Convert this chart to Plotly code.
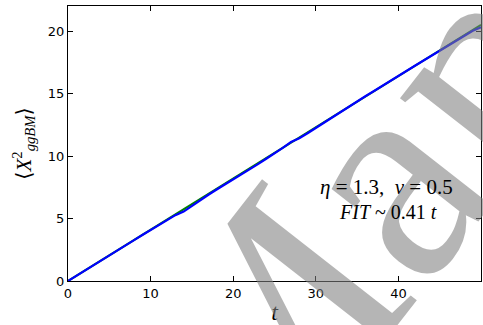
import plotly.graph_objects as go

# diffusion curve
t = list(range(0, 51))
x2_sim = [0.00, 0.40, 0.81, 1.22, 1.63, 2.04, 2.45, 2.86, 3.27, 3.68,
          4.09, 4.49, 4.89, 5.27, 5.55, 6.02, 6.47, 6.90, 7.32, 7.72,
          8.12, 8.52, 8.90, 9.35, 9.78, 10.20, 10.65, 11.12, 11.42, 11.82,
          12.25, 12.66, 13.08, 13.52, 13.93, 14.36, 14.78, 15.18, 15.60, 15.98,
          16.38, 16.80, 17.22, 17.62, 18.02, 18.40, 18.82, 19.22, 19.62, 20.02,
          20.30]
fit_slope = 0.41
x2_fit = [fit_slope * v for v in t]

x_ticks = [0, 10, 20, 30, 40, 50]
y_ticks = [0, 5, 10, 15, 20]

SERIF = "Liberation Serif, DejaVu Serif, serif"
SANS = "DejaVu Sans, sans-serif"

fig = go.Figure()
fig.add_trace(go.Scatter(x=t, y=x2_fit, mode="lines",
                         line=dict(color="#008000", width=2),
                         showlegend=False))
fig.add_trace(go.Scatter(x=t, y=x2_sim, mode="lines",
                         line=dict(color="#0000ff", width=2.2),
                         showlegend=False))

# the grey watermark behind the plot
fig.add_annotation(xref="paper", yref="paper", x=1.286, y=1.374,
                   xanchor="center", yanchor="middle",
                   text="Manuscript", showarrow=False, textangle=-52,
                   font=dict(family=SERIF, size=300, color="rgba(128,128,128,0.58)"))

NB = "\u00a0"
fig.add_annotation(xref="x", yref="y", x=38.5, y=7.5,
                   text=f"<i>η</i>{NB}={NB}1.3,{NB}{NB}<i>ν</i>{NB}={NB}0.5", showarrow=False,
                   font=dict(family=SERIF, size=21, color="black"))
fig.add_annotation(xref="x", yref="y", x=38.8, y=5.5,
                   text=f"<i>FIT</i>{NB}~{NB}0.41{NB}<i>t</i>", showarrow=False,
                   font=dict(family=SERIF, size=20, color="black"))

axis_style = dict(showline=True, linecolor="black", linewidth=1.2, mirror="allticks",
                  ticks="inside", ticklen=5, tickcolor="black", showgrid=False,
                  zeroline=False, tickfont=dict(family=SANS, size=13, color="black"))

fig.update_xaxes(range=[0, 50], tickvals=x_ticks,
                 title=dict(text="<i>t</i>", font=dict(family=SERIF, size=24, color="black"),
                            standoff=4),
                 **axis_style)
fig.update_yaxes(range=[0, 22], tickvals=y_ticks,
                 title=dict(text="⟨<i>X</i><sup>2</sup><sub><i>ggBM</i></sub>⟩",
                            font=dict(family=SERIF, size=21, color="black"), standoff=10),
                 **axis_style)

fig.update_layout(width=483, height=325,
                  margin=dict(l=68, r=2, t=6, b=44),
                  plot_bgcolor="white", paper_bgcolor="white")

fig.write_html("out.html", config={"displayModeBar": False},
               post_script="document.body.style.margin='0';")
